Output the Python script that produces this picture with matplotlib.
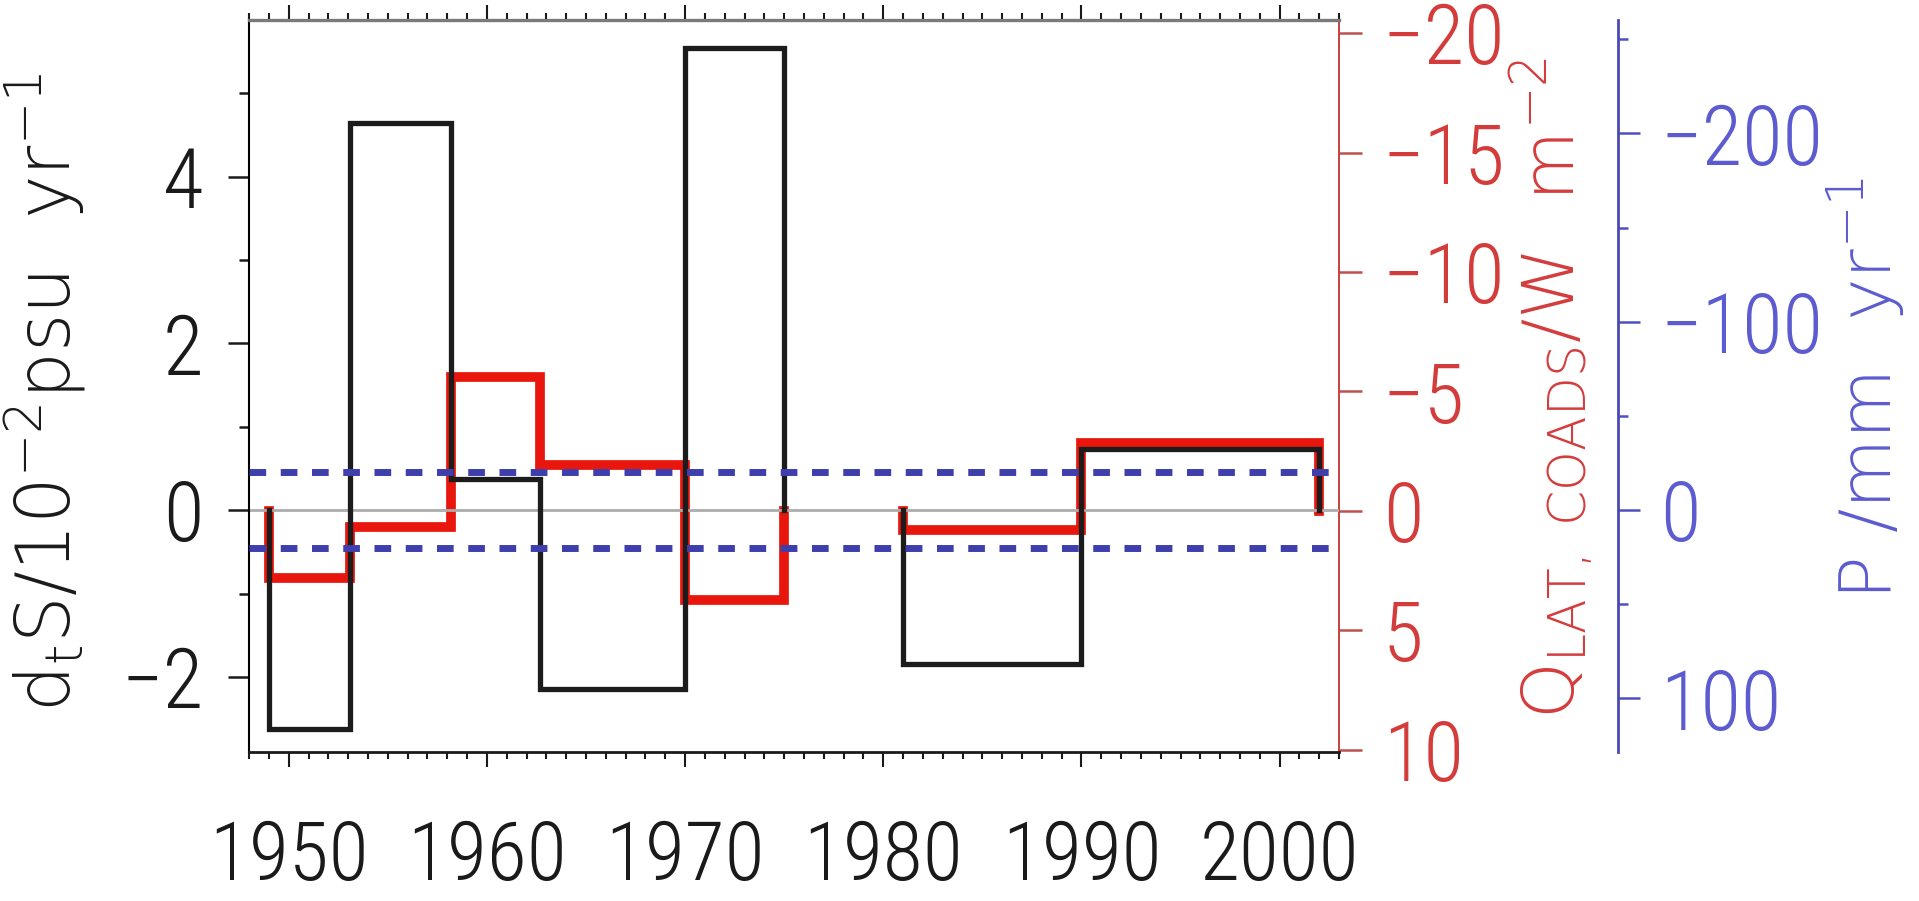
import numpy as np
import matplotlib
matplotlib.use('Agg')
import matplotlib.pyplot as plt
from matplotlib import font_manager
from matplotlib.ticker import MultipleLocator
from matplotlib.transforms import ScaledTranslation

# Trend periods (years) and the per-period trends
period_start = [1949, 1953.1, 1958.2, 1962.7, 1970, 1981, 1990]
period_end = [1953.1, 1958.2, 1962.7, 1970, 1975, 1990, 2002]
salinity_trend = [-2.62, 4.64, 0.38, -2.15, 5.55, -1.84, 0.73]   # 1e-2 psu/yr
qlat_trend = [2.8, 0.7, -5.6, -1.9, 3.75, 0.8, -2.85]             # W m-2
precip_band = [-20, 20]                                           # mm/yr


def first_font(names, fallback):
    for name in names:
        try:
            font_manager.findfont(name, fallback_to_default=False)
            return name
        except ValueError:
            pass
    return fallback


# narrow face for the tick numbers, wide one for the rotated titles
tick_font = first_font(['Roboto Condensed', 'DejaVu Sans Condensed',
                        'Noto Sans Condensed', 'Liberation Sans Narrow',
                        'Liberation Sans'], 'DejaVu Sans')
plt.rcParams['font.family'] = [tick_font, 'DejaVu Sans']
plt.rcParams['font.weight'] = 'light'
plt.rcParams['axes.unicode_minus'] = True


def step_outline(starts, ends, values):
    """Closed step outline from zero for each run of adjacent periods."""
    xs, ys = [], []
    for i, (a, b, v) in enumerate(zip(starts, ends, values)):
        if i == 0 or a != ends[i - 1]:
            if i > 0:
                xs += [ends[i - 1], np.nan]
                ys += [0, np.nan]
            xs.append(a)
            ys.append(0)
        xs += [a, b]
        ys += [v, v]
    xs.append(ends[-1])
    ys.append(0)
    return np.array(xs), np.array(ys)


fig = plt.figure(figsize=(19.19, 9.01), dpi=100)
fig.patch.set_facecolor('white')
ax = fig.add_axes([0.1298, 0.1654, 0.5680, 0.8124])
ax_q = ax.twinx()
ax_p = ax.twinx()

ax_q.set_zorder(1)
ax.set_zorder(2)
ax_p.set_zorder(3)
ax.patch.set_visible(False)
ax_p.patch.set_visible(False)

for tw in (ax_q, ax_p):
    for side in ('left', 'top', 'bottom'):
        tw.spines[side].set_visible(False)
ax.spines['right'].set_visible(False)
ax_p.spines['right'].set_position(('axes', 1.256))

# zero line and the salinity trend
ax.axhline(0, color='#acacac', lw=2, zorder=1)
xs, ys = step_outline(period_start, period_end, salinity_trend)
ax.plot(xs, ys, color='#1c1c1c', lw=3.8, solid_joinstyle='miter', zorder=3)

# latent heat flux trend (inverted scale)
xq, yq = step_outline(period_start, period_end, qlat_trend)
ax_q.plot(xq, yq, color='#e8160c', lw=7, solid_joinstyle='miter')

# precipitation band
for v in precip_band:
    ax_p.axhline(v, color='#3e3eac', lw=5, dashes=(2.4, 2.1))

ax.set_xlim(1948, 2003)
ax.set_ylim(-2.9, 5.88)
ax_q.set_ylim(10.1, -20.55)
ax_p.set_ylim(128.4, -260.2)

# x axis
ax.xaxis.set_major_locator(MultipleLocator(10))
ax.xaxis.set_minor_locator(MultipleLocator(1))
ax.tick_params(axis='x', which='both', direction='out', top=True, bottom=True,
               labeltop=False, colors='#1a1a1a', width=1.5)
ax.tick_params(axis='x', which='major', length=11, pad=37, labelsize=59)
ax.tick_params(axis='x', which='minor', length=5)

# left axis
ax.yaxis.set_major_locator(MultipleLocator(2))
ax.yaxis.set_minor_locator(MultipleLocator(1))
ax.tick_params(axis='y', which='both', direction='out', colors='#1a1a1a', width=1.8)
ax.tick_params(axis='y', which='major', length=15, pad=18, labelsize=60)
ax.tick_params(axis='y', which='minor', length=7)

# red axis
ax_q.yaxis.set_major_locator(MultipleLocator(5))
ax_q.tick_params(axis='y', which='major', direction='out', length=16.5, width=1.8,
                 pad=15, labelsize=60, color='#c05050', labelcolor='#d43c3c')
# end labels sit inside the axis range
q_ticks = ax_q.yaxis.get_major_ticks()
q_ticks[0].label2.set_transform(q_ticks[0].label2.get_transform()
                                + ScaledTranslation(0, -12 / 72, fig.dpi_scale_trans))
q_ticks[-1].label2.set_transform(q_ticks[-1].label2.get_transform()
                                 + ScaledTranslation(0, 18 / 72, fig.dpi_scale_trans))

# blue axis
ax_p.yaxis.set_major_locator(MultipleLocator(100))
ax_p.yaxis.set_minor_locator(MultipleLocator(50))
ax_p.tick_params(axis='y', which='both', direction='out', width=1.8,
                 color='#5050c0', labelcolor='#5c5cd0')
ax_p.tick_params(axis='y', which='major', length=16, pad=14.5, labelsize=60)
ax_p.tick_params(axis='y', which='minor', length=7)

ax.spines['left'].set_linewidth(1.5)
ax.spines['bottom'].set_linewidth(2)
ax.spines['bottom'].set_color('#1a1a1a')
ax.spines['top'].set_linewidth(2.4)
ax.spines['top'].set_color('#7a7a7a')
ax_q.spines['right'].set_color('#c84040')
ax_q.spines['right'].set_linewidth(1.4)
ax_p.spines['right'].set_color('#4a4ab4')
ax_p.spines['right'].set_linewidth(2)

# axis titles
fig.text(45 / 1919, 1 - 392 / 901, r'$\mathrm{d_tS/10^{-2}psu\ \ yr^{-1}}$',
         rotation=90, ha='center', va='center', fontsize=53,
         family='DejaVu Sans', color='#1a1a1a')
fig.text(1552 / 1919, 1 - 388 / 901, r'$\mathrm{Q_{LAT,\ COADS}/W\ \ m^{-2}}$',
         rotation=90, ha='center', va='center', fontsize=52,
         family='DejaVu Sans', color='#d43c3c')
fig.text(1866 / 1919, 1 - 389 / 901, r'$\mathrm{P\ /mm\ \ yr^{-1}}$',
         rotation=90, ha='center', va='center', fontsize=52,
         family='DejaVu Sans', color='#5c5cd0')

fig.savefig('out.png', dpi=100, facecolor='white')
